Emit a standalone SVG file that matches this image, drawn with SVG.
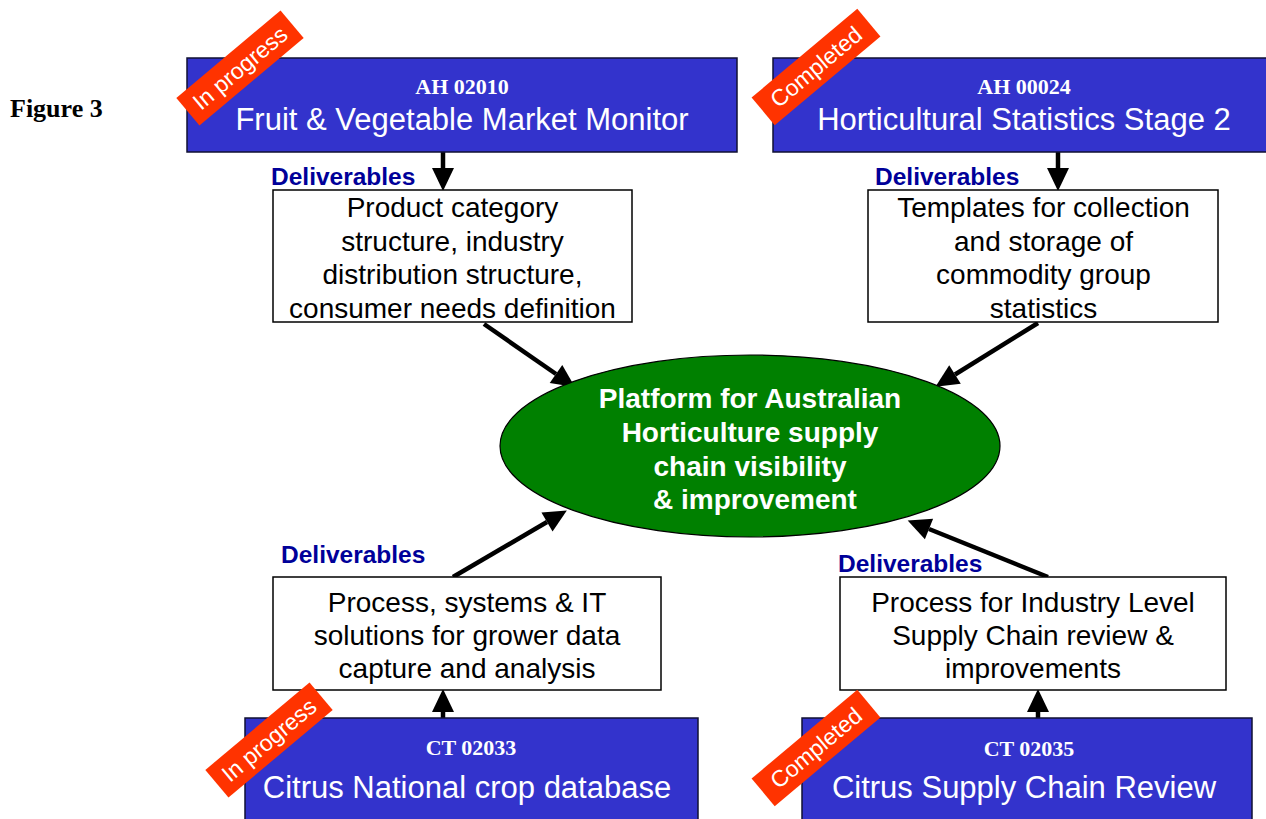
<svg xmlns="http://www.w3.org/2000/svg" width="1266" height="819" viewBox="0 0 1266 819">
  <style>
    .proj { fill: #3333cc; stroke: #111133; stroke-width: 1.5; }
    .code { font-family: "Liberation Serif", "Times New Roman", serif; font-weight: bold; font-size: 22px; fill: #ffffff; text-anchor: middle; }
    .title { font-family: "Liberation Sans", Arial, sans-serif; font-size: 31px; fill: #ffffff; text-anchor: middle; }
    .deliv { fill: #ffffff; stroke: #000000; stroke-width: 1.5; }
    .dtext { font-family: "Liberation Sans", Arial, sans-serif; font-size: 28px; fill: #000000; text-anchor: middle; }
    .dlabel { font-family: "Liberation Sans", Arial, sans-serif; font-weight: bold; font-size: 24.5px; fill: #000099; }
    .badge { fill: #ff3300; }
    .btext { font-family: "Liberation Sans", Arial, sans-serif; font-size: 23px; fill: #ffffff; text-anchor: middle; }
    .hub { fill: #008000; stroke: #000000; stroke-width: 1.2; }
    .htext { font-family: "Liberation Sans", Arial, sans-serif; font-weight: bold; font-size: 28px; fill: #ffffff; text-anchor: middle; }
    .arrow { stroke: #000000; stroke-width: 4.5; fill: none; marker-end: url(#head); }
  </style>
  <defs>
    <marker id="head" markerUnits="userSpaceOnUse" markerWidth="24" markerHeight="22" refX="0" refY="11" orient="auto" overflow="visible">
      <path d="M0,0 L23,11 L0,22 Z" fill="#000000"/>
    </marker>
  </defs>

  <rect width="1266" height="819" fill="#ffffff"/>

  <text x="10" y="117" font-family="'Liberation Serif', 'Times New Roman', serif" font-weight="bold" font-size="26px" fill="#000000">Figure 3</text>

  <!-- connectors -->
  <g id="connectors">
    <line class="arrow" x1="443" y1="152" x2="443" y2="168"/>
    <line class="arrow" x1="1058" y1="152" x2="1058" y2="168"/>
    <line class="arrow" x1="443" y1="718" x2="443" y2="712"/>
    <line class="arrow" x1="1038" y1="718" x2="1038" y2="712"/>
    <line class="arrow" x1="484" y1="324" x2="556" y2="374"/>
    <line class="arrow" x1="1038" y1="323" x2="955" y2="374.5"/>
    <line class="arrow" x1="453" y1="577" x2="547" y2="522"/>
    <line class="arrow" x1="1048" y1="577" x2="929" y2="529"/>
  </g>

  <!-- project AH 02010 -->
  <g id="proj-ah02010">
    <rect class="proj" x="187" y="58" width="550" height="94"/>
    <text class="code" x="462" y="94">AH 02010</text>
    <text class="title" x="462" y="130">Fruit &amp; Vegetable Market Monitor</text>
  </g>
  <g id="badge-ah02010" transform="translate(240,68) rotate(-40)">
    <rect class="badge" x="-68" y="-18" width="136" height="36"/>
    <text class="btext" x="0" y="8">In progress</text>
  </g>

  <!-- project AH 00024 -->
  <g id="proj-ah00024">
    <rect class="proj" x="773" y="58" width="502" height="94"/>
    <text class="code" x="1024" y="94">AH 00024</text>
    <text class="title" x="1024" y="130">Horticultural Statistics Stage 2</text>
  </g>
  <g id="badge-ah00024" transform="translate(816,67) rotate(-40)">
    <rect class="badge" x="-69" y="-18" width="138" height="36"/>
    <text class="btext" x="0" y="8">Completed</text>
  </g>

  <!-- deliverables of AH 02010 -->
  <g id="deliv-ah02010">
    <text class="dlabel" x="271" y="185">Deliverables</text>
    <rect class="deliv" x="273" y="190" width="359" height="132"/>
    <text class="dtext" x="452.5" y="217">Product category</text>
    <text class="dtext" x="452.5" y="251">structure, industry</text>
    <text class="dtext" x="452.5" y="284">distribution structure,</text>
    <text class="dtext" x="452.5" y="318">consumer needs definition</text>
  </g>

  <!-- deliverables of AH 00024 -->
  <g id="deliv-ah00024">
    <text class="dlabel" x="875" y="185">Deliverables</text>
    <rect class="deliv" x="868" y="190" width="350" height="132"/>
    <text class="dtext" x="1043.5" y="217">Templates for collection</text>
    <text class="dtext" x="1043.5" y="251">and storage of</text>
    <text class="dtext" x="1043.5" y="284">commodity group</text>
    <text class="dtext" x="1043.5" y="318">statistics</text>
  </g>

  <!-- central platform -->
  <g id="platform">
    <ellipse class="hub" cx="750" cy="446" rx="250" ry="91"/>
    <text class="htext" x="750" y="408">Platform for Australian</text>
    <text class="htext" x="750" y="442">Horticulture supply</text>
    <text class="htext" x="750" y="476">chain visibility</text>
    <text class="htext" x="755" y="509">&amp; improvement</text>
  </g>

  <!-- deliverables of CT 02033 -->
  <g id="deliv-ct02033">
    <text class="dlabel" x="281" y="563">Deliverables</text>
    <rect class="deliv" x="273" y="577" width="388" height="113"/>
    <text class="dtext" x="467" y="612">Process, systems &amp; IT</text>
    <text class="dtext" x="467" y="645">solutions for grower data</text>
    <text class="dtext" x="467" y="678">capture and analysis</text>
  </g>

  <!-- deliverables of CT 02035 -->
  <g id="deliv-ct02035">
    <text class="dlabel" x="838" y="572">Deliverables</text>
    <rect class="deliv" x="840" y="577" width="386" height="113"/>
    <text class="dtext" x="1033" y="612">Process for Industry Level</text>
    <text class="dtext" x="1033" y="645">Supply Chain review &amp;</text>
    <text class="dtext" x="1033" y="678">improvements</text>
  </g>

  <!-- project CT 02033 -->
  <g id="proj-ct02033">
    <rect class="proj" x="245" y="718" width="453" height="110"/>
    <text class="code" x="471" y="755">CT 02033</text>
    <text class="title" x="467" y="798">Citrus National crop database</text>
  </g>
  <g id="badge-ct02033" transform="translate(269,740) rotate(-40)">
    <rect class="badge" x="-68" y="-18" width="136" height="36"/>
    <text class="btext" x="0" y="8">In progress</text>
  </g>

  <!-- project CT 02035 -->
  <g id="proj-ct02035">
    <rect class="proj" x="802" y="718" width="450" height="110"/>
    <text class="code" x="1029" y="756">CT 02035</text>
    <text class="title" x="1024" y="798">Citrus Supply Chain Review</text>
  </g>
  <g id="badge-ct02035" transform="translate(816,748) rotate(-40)">
    <rect class="badge" x="-69" y="-18" width="138" height="36"/>
    <text class="btext" x="0" y="8">Completed</text>
  </g>
</svg>
